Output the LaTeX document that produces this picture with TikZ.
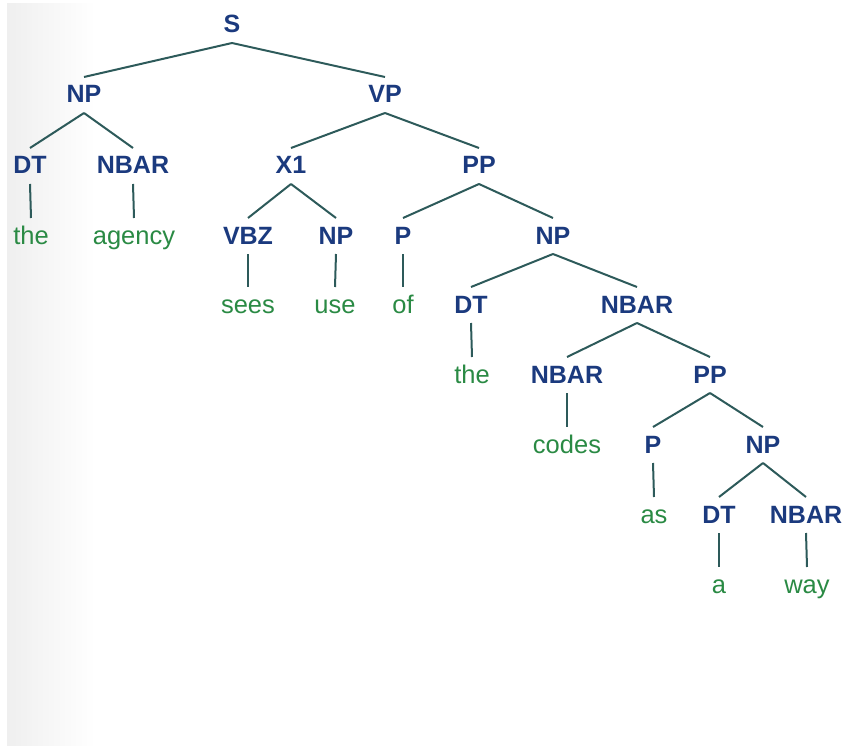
\documentclass[tikz,border=0pt]{standalone}
\usepackage{fontspec}
\setmainfont{Liberation Sans}
\definecolor{labblue}{HTML}{1B3A7E}
\definecolor{leafgreen}{HTML}{2A8A44}
\definecolor{edgecol}{HTML}{2D5A5A}
\definecolor{bggray}{HTML}{EFEFEF}
\tikzset{
  lab/.style={anchor=base, inner sep=0pt, font=\bfseries\fontsize{25}{30}\selectfont, text=labblue},
  leaf/.style={anchor=base, inner sep=0pt, font=\fontsize{25.5}{30}\selectfont, text=leafgreen},
  edge/.style={draw=edgecol, line width=2pt}
}
\newcommand\tedge[2]{\draw[edge] ([yshift=-10pt]#1.base) -- ([yshift=26pt]#2.base);}
\begin{document}
\begin{tikzpicture}[x=1pt,y=-1pt]
\useasboundingbox (0,0) rectangle (843,746);
\shade[left color=bggray, right color=white] (7,4) rectangle (95,745);
% row 1
\node[lab] (s) at (232,33) {S};
% row 2
\node[lab] (np1) at (84,103) {NP};
\node[lab] (vp) at (385,103) {VP};
% row 3
\node[lab] (dt1) at (30,174) {DT};
\node[lab] (nbar1) at (133,174) {NBAR};
\node[lab] (x1) at (291,174) {X1};
\node[lab] (pp1) at (479,174) {PP};
% row 4
\node[leaf] (the1) at (31,244) {the};
\node[leaf] (agency) at (134,244) {agency};
\node[lab] (vbz) at (248,244) {VBZ};
\node[lab] (np2) at (336,244) {NP};
\node[lab] (p1) at (403,244) {P};
\node[lab] (np3) at (553,244) {NP};
% row 5
\node[leaf] (sees) at (248,313) {sees};
\node[leaf] (use) at (335,313) {use};
\node[leaf] (of) at (403,313) {of};
\node[lab] (dt2) at (471,313) {DT};
\node[lab] (nbar2) at (637,313) {NBAR};
% row 6
\node[leaf] (the2) at (472,383) {the};
\node[lab] (nbar3) at (567,383) {NBAR};
\node[lab] (pp2) at (710,383) {PP};
% row 7
\node[leaf] (codes) at (567,453) {codes};
\node[lab] (p2) at (653,453) {P};
\node[lab] (np4) at (763,453) {NP};
% row 8
\node[leaf] (as) at (654,523) {as};
\node[lab] (dt3) at (719,523) {DT};
\node[lab] (nbar4) at (806,523) {NBAR};
% row 9
\node[leaf] (a) at (719,593) {a};
\node[leaf] (way) at (807,593) {way};
% edges
\tedge{s}{np1}
\tedge{s}{vp}
\tedge{np1}{dt1}
\tedge{np1}{nbar1}
\tedge{vp}{x1}
\tedge{vp}{pp1}
\tedge{dt1}{the1}
\tedge{nbar1}{agency}
\tedge{x1}{vbz}
\tedge{x1}{np2}
\tedge{pp1}{p1}
\tedge{pp1}{np3}
\tedge{vbz}{sees}
\tedge{np2}{use}
\tedge{p1}{of}
\tedge{np3}{dt2}
\tedge{np3}{nbar2}
\tedge{dt2}{the2}
\tedge{nbar2}{nbar3}
\tedge{nbar2}{pp2}
\tedge{nbar3}{codes}
\tedge{pp2}{p2}
\tedge{pp2}{np4}
\tedge{p2}{as}
\tedge{np4}{dt3}
\tedge{np4}{nbar4}
\tedge{dt3}{a}
\tedge{nbar4}{way}
\end{tikzpicture}
\end{document}
